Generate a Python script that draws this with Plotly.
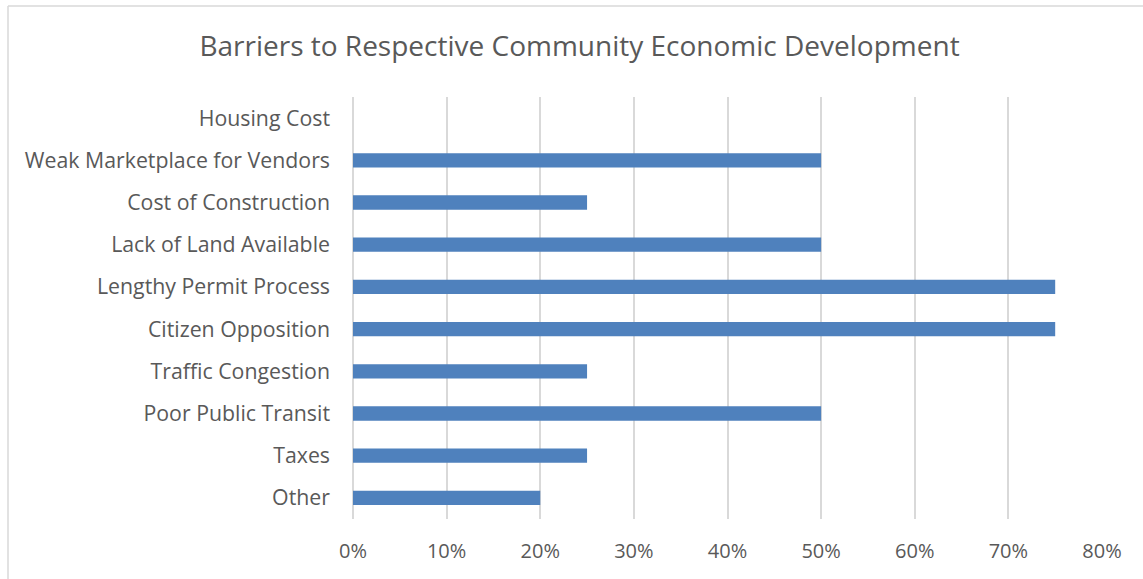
import plotly.graph_objects as go

# Survey responses: share of communities citing each barrier
categories = [
    "Other",
    "Taxes",
    "Poor Public Transit",
    "Traffic Congestion",
    "Citizen Opposition",
    "Lengthy Permit Process",
    "Lack of Land Available",
    "Cost of Construction",
    "Weak Marketplace for Vendors",
    "Housing Cost",
]
shares = [0.20, 0.25, 0.50, 0.25, 0.75, 0.75, 0.50, 0.25, 0.50, 0.0]

tick_values = [0, 0.1, 0.2, 0.3, 0.4, 0.5, 0.6, 0.7, 0.8]
tick_labels = ["0%", "10%", "20%", "30%", "40%", "50%", "60%", "70%", "80%"]

W, H = 1143, 579
ML, MR, MT, MB = 353, 41, 97, 60
FONT = "Open Sans"
TEXT = "#595959"
GRID = "#D9D9D9"

fig = go.Figure(
    go.Bar(
        x=shares,
        y=categories,
        orientation="h",
        marker=dict(color="#4F81BD", line=dict(width=0)),
        hoverinfo="skip",
    )
)

pw = W - ML - MR
ph = H - MT - MB
frame_left = (8 - ML) / pw
frame_right = (W + 5 - ML) / pw
frame_top = 1 + (MT - 6) / ph

fig.update_layout(
    width=W,
    height=H,
    paper_bgcolor="white",
    plot_bgcolor="white",
    margin=dict(l=ML, r=MR, t=MT, b=MB, autoexpand=False),
    bargap=0.66,
    showlegend=False,
    title=dict(
        text="Barriers to Respective Community Economic Development",
        x=0.507,
        xanchor="center",
        xref="container",
        y=1 - 46 / H,
        yanchor="middle",
        yref="container",
        font=dict(family=FONT, size=28, color=TEXT),
    ),
    xaxis=dict(
        range=[0, 0.8],
        tickvals=tick_values,
        ticktext=tick_labels,
        showgrid=True,
        gridcolor=GRID,
        gridwidth=1.5,
        zeroline=True,
        zerolinecolor=GRID,
        zerolinewidth=1.5,
        showline=False,
        ticks="",
        ticklabelstandoff=18,
        tickfont=dict(family=FONT, size=20, color=TEXT),
        fixedrange=True,
    ),
    yaxis=dict(
        categoryorder="array",
        categoryarray=categories,
        showgrid=False,
        showline=False,
        zeroline=False,
        ticks="",
        ticklabelstandoff=22,
        tickfont=dict(family=FONT, size=21.3, color=TEXT),
        fixedrange=True,
    ),
    shapes=[
        # light chart-area frame (top and left edges)
        dict(type="line", xref="paper", yref="paper",
             x0=frame_left, x1=frame_right, y0=frame_top, y1=frame_top,
             line=dict(color=GRID, width=1.5)),
        dict(type="line", xref="paper", yref="paper",
             x0=frame_left, x1=frame_left, y0=-1, y1=frame_top,
             line=dict(color=GRID, width=1.5)),
    ],
)

fig.write_html("out.html", config={"displayModeBar": False})
